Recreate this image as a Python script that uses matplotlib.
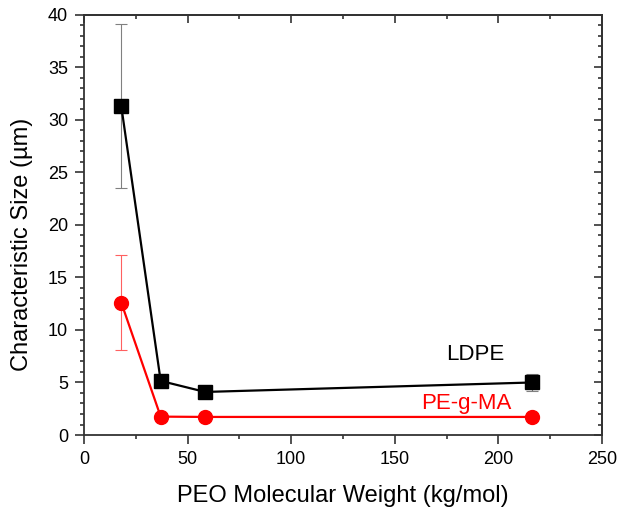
import matplotlib
matplotlib.use("Agg")
import matplotlib.pyplot as plt
from matplotlib.ticker import MultipleLocator

plt.rcParams['font.family'] = ['Liberation Sans', 'DejaVu Sans']

mw = [18, 37, 58.5, 216]
ldpe = [31.3, 5.15, 4.1, 5.0]
ldpe_err = [7.8, 0.0, 0.0, 0.8]
pegma = [12.6, 1.75, 1.72, 1.72]
pegma_err = [4.5, 0.0, 0.0, 0.0]

fig = plt.figure(figsize=(6.2, 5.08), dpi=100)
ax = fig.add_axes([0.1355, 0.1437, 0.8355, 0.8268])

ax.errorbar(mw, ldpe, yerr=ldpe_err, fmt='none', ecolor='#808080', elinewidth=0.8,
            capsize=4, capthick=0.8, zorder=2)
ax.errorbar(mw, pegma, yerr=pegma_err, fmt='none', ecolor='#ff6060', elinewidth=0.8,
            capsize=4, capthick=0.8, zorder=2)
ax.plot(mw, ldpe, '-s', color='black', lw=1.6, markersize=9.5, zorder=3)
ax.plot(mw, pegma, '-o', color='#ff0000', lw=1.6, markersize=10, zorder=3)

ax.text(175, 7.7, 'LDPE', fontsize=16, color='black', ha='left', va='center')
ax.text(162.5, 3.0, 'PE-g-MA', fontsize=16, color='#ff0000', ha='left', va='center')

ax.set_xlim(0, 250)
ax.set_ylim(0, 40)
ax.xaxis.set_major_locator(MultipleLocator(50))
ax.xaxis.set_minor_locator(MultipleLocator(25))
ax.yaxis.set_major_locator(MultipleLocator(5))
ax.yaxis.set_minor_locator(MultipleLocator(1))
ax.tick_params(which='both', direction='out', top=False, right=False, labelsize=13,
               color='#333333', width=1.2, pad=5)
ax.tick_params(which='major', length=6.5)
ax.tick_params(which='minor', length=3)

axt = ax.secondary_xaxis('top')
axt.xaxis.set_major_locator(MultipleLocator(50))
axt.xaxis.set_minor_locator(MultipleLocator(25))
axt.tick_params(which='both', direction='in', labeltop=False, color='#333333', width=1.2)
axt.tick_params(which='major', length=6)
axt.tick_params(which='minor', length=3)
axr = ax.secondary_yaxis('right')
axr.yaxis.set_major_locator(MultipleLocator(5))
axr.yaxis.set_minor_locator(MultipleLocator(1))
axr.tick_params(which='both', direction='in', labelright=False, color='#333333', width=1.2)
axr.tick_params(which='major', length=6)
axr.tick_params(which='minor', length=3)
for sp in list(ax.spines.values()) + [axt.spines['top'], axr.spines['right']]:
    sp.set_color('#333333')
    sp.set_linewidth(1.3)

ax.set_xlabel('PEO Molecular Weight (kg/mol)', fontsize=17)
ax.set_ylabel('Characteristic Size (\u00b5m)', fontsize=17)
ax.xaxis.set_label_coords(0.5, -0.118)
ax.yaxis.set_label_coords(-0.098, 0.455)

fig.savefig('out.png', dpi=100, facecolor='white')
